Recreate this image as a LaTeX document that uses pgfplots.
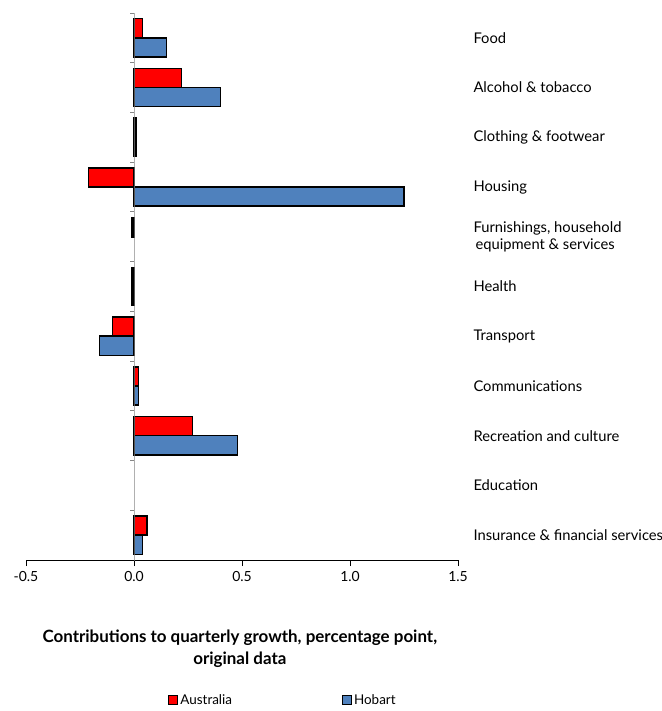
\documentclass[border=0pt]{standalone}
\usepackage{fontspec}
\setmainfont{Lato}
\usepackage{pgfplots}
\pgfplotsset{compat=1.18}
\definecolor{ausred}{RGB}{255,0,0}
\definecolor{hobblue}{RGB}{79,129,189}
\definecolor{axgray}{RGB}{134,134,134}
\begin{document}
\begin{tikzpicture}
\useasboundingbox (-26bp,-151bp) rectangle (636bp,560bp);
\begin{axis}[
  at={(0,0)}, anchor=south west,
  scale only axis, width=432bp, height=547bp,
  xmin=-0.5, xmax=1.5, ymin=-0.5, ymax=10.5, y dir=reverse,
  axis x line*=bottom, axis y line*=right,
  y axis line style={draw=none},
  x axis line style={line width=0.9bp, black},
  xtick={-0.5,0,0.5,1,1.5},
  xticklabels={-0.5,0.0,0.5,1.0,1.5},
  xtick style={black, line width=0.9bp},
  tick align=outside, major tick length=6bp,
  xticklabel style={font=\fontsize{14}{16}\selectfont, yshift=-2bp},
  ytick={0,...,10},
  ytick style={draw=none},
  yticklabel pos=right,
  yticklabels={Food, Alcohol \& tobacco, Clothing \& footwear, Housing, {Furnishings, household\\\hspace{2bp}equipment \& services}, Health, Transport, Communications, Recreation and culture, Education, Insurance \& financial services},
  yticklabel style={font=\fontsize{14.8}{17}\selectfont, anchor=west, align=left, xshift=6bp},
  xbar, bar width=0.385,
  xlabel={Contributions to quarterly growth, percentage point,\\original data},
  xlabel style={font=\bfseries\fontsize{17}{22}\selectfont, align=center, at={(axis description cs:0.495,-0.122)}, anchor=north},
  legend columns=2,
  legend style={draw=none, at={(axis description cs:0.595,-0.256)}, anchor=center, font=\fontsize{13.5}{15}\selectfont, /tikz/every even column/.append style={column sep=108bp}},
  legend image code/.code={\draw[#1, line width=1bp] (0bp,-4.5bp) rectangle (9bp,4.5bp);},
]
\addplot[fill=ausred, draw=black, line width=1.5bp, bar shift=-0.1925] coordinates {
  (0.04,0) (0.22,1) (0.01,2) (-0.21,3) (-0.01,4) (-0.01,5) (-0.10,6) (0.02,7) (0.27,8) (0.06,10)
};
\addlegendentry{Australia}
\addplot[fill=hobblue, draw=black, line width=1.5bp, bar shift=0.1925] coordinates {
  (0.15,0) (0.40,1) (0.01,2) (1.25,3) (-0.01,5) (-0.16,6) (0.02,7) (0.48,8) (0.04,10)
};
\addlegendentry{Hobart}
\draw[axgray, line width=0.9bp] (axis cs:0,-0.5) -- (axis cs:0,10.5) -- ++(0bp,-5bp);
\pgfplotsinvokeforeach{-0.5,0.5,1.5,2.5,3.5,4.5,5.5,6.5,7.5,8.5,9.5}{
  \draw[axgray, line width=0.9bp] (axis cs:0,#1) -- ++(-4bp,0bp);
}
\end{axis}
\end{tikzpicture}
\end{document}
